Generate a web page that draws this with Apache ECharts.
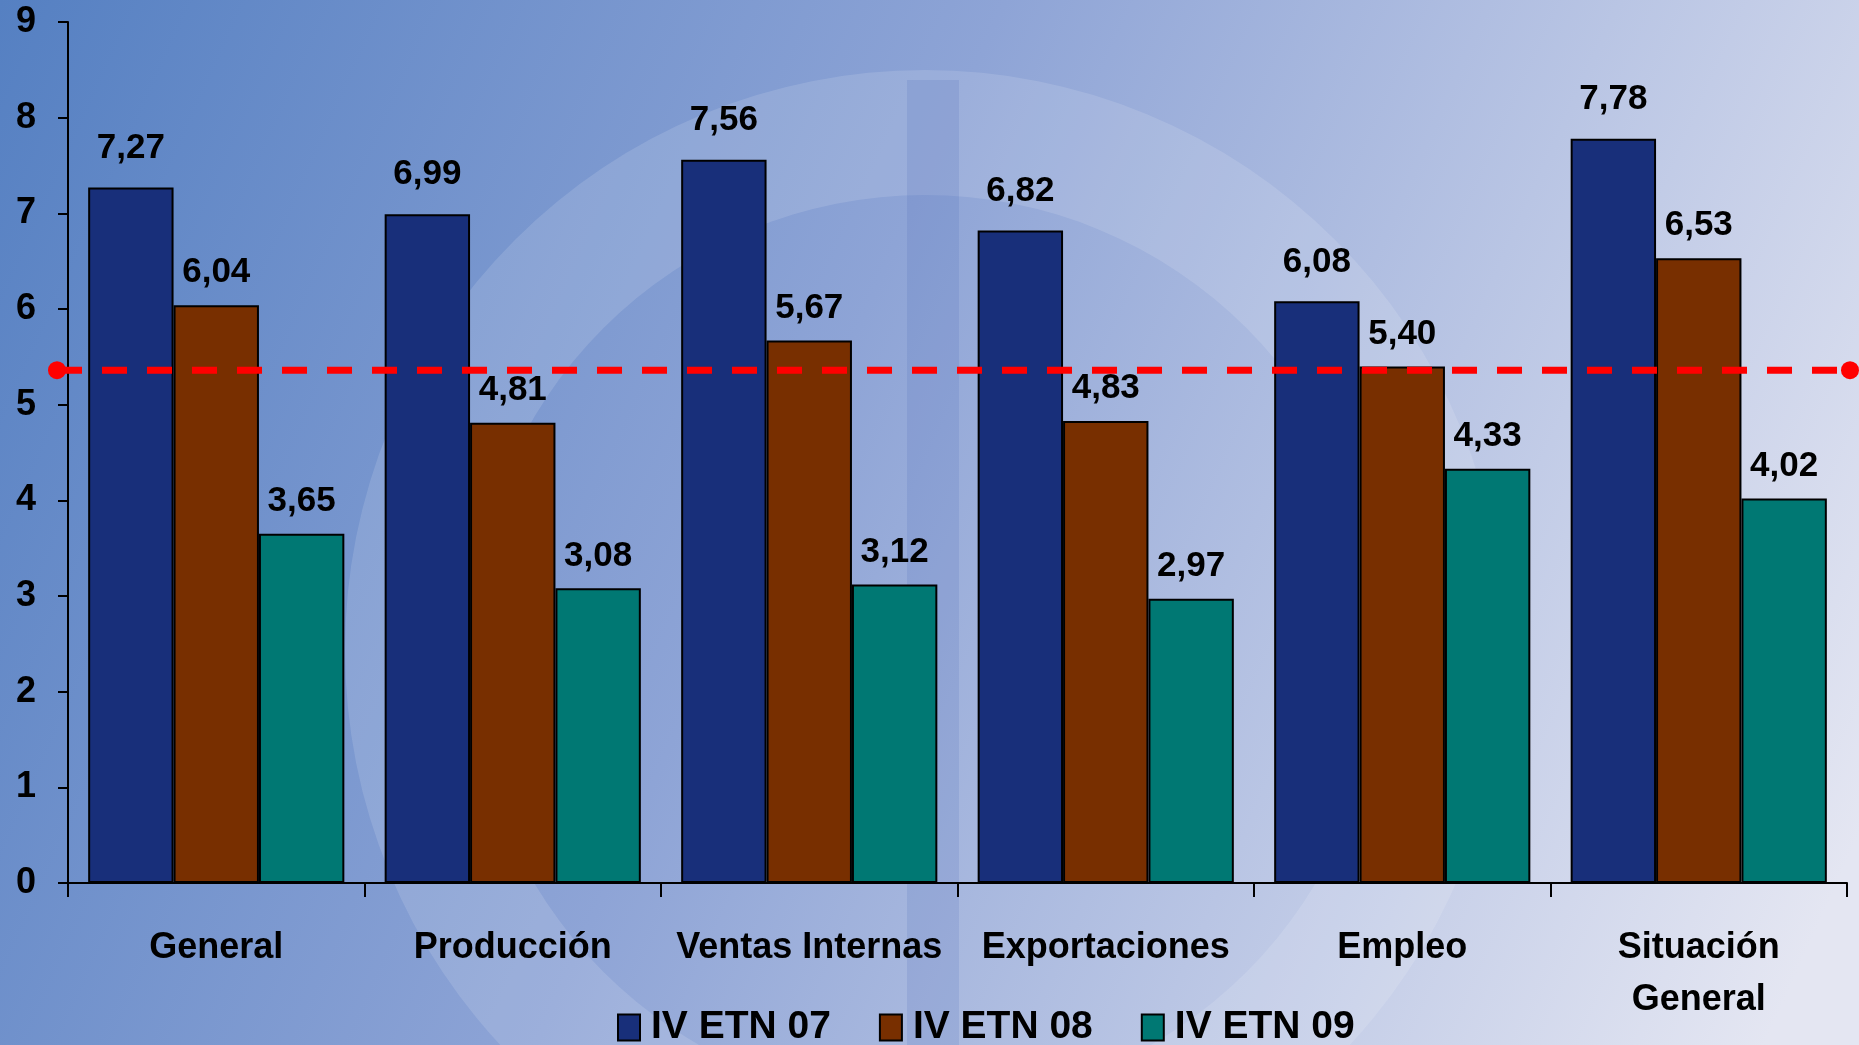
<!DOCTYPE html>
<html>
<head>
<meta charset="utf-8">
<script src="https://cdn.jsdelivr.net/npm/echarts@6/dist/echarts.min.js"></script>
<style>
  html, body { margin: 0; padding: 0; }
  #chart { width: 1859px; height: 1045px; }
</style>
</head>
<body>
<div id="chart"></div>
<script>
const categories = ['General', 'Producción', 'Ventas Internas', 'Exportaciones', 'Empleo', 'Situación\nGeneral']
const etn07 = [7.27, 6.99, 7.56, 6.82, 6.08, 7.78]
const etn08 = [6.04, 4.81, 5.67, 4.83, 5.40, 6.53]
const etn09 = [3.65, 3.08, 3.12, 2.97, 4.33, 4.02]
const referenceLevel = 5.36

const fontFamily = '"Liberation Sans", Arial, sans-serif'

function formatValue(value) {
  return Number(value).toFixed(2).replace('.', ',')
}

function barSeries(name, data, color, labelDistance) {
  return {
    name,
    type: 'bar',
    xAxisIndex: 0,
    yAxisIndex: 0,
    barGap: '0%',
    barCategoryGap: '13.6%',
    itemStyle: {
      color,
      borderColor: '#000',
      borderWidth: 2
    },
    label: {
      show: true,
      position: 'top',
      distance: labelDistance,
      color: '#000',
      fontFamily,
      fontWeight: 'bold',
      fontSize: 35,
      formatter: params => formatValue(params.value)
    },
    data
  }
}

const chart = echarts.init(document.getElementById('chart'))

chart.setOption({
  animation: false,
  backgroundColor: {
    type: 'linear',
    x: 0, y: 0, x2: 1, y2: 0.8,
    colorStops: [
      { offset: 0, color: '#5580c2' },
      { offset: 0.45, color: '#8ea4d6' },
      { offset: 1, color: '#e4e6f2' }
    ]
  },
  graphic: [
    {
      type: 'ring',
      silent: true,
      z: -10,
      shape: { cx: 925, cy: 650, r: 580, r0: 455 },
      style: { fill: 'rgba(255,255,255,0.13)' }
    },
    {
      type: 'rect',
      silent: true,
      z: -10,
      shape: { x: 907, y: 80, width: 52, height: 965 },
      style: { fill: 'rgba(70,100,180,0.16)' }
    }
  ],
  grid: [
    { left: 68, right: 12, top: 22, bottom: 162 },
    { left: 57, right: 9, top: 22, bottom: 162 }
  ],
  legend: {
    left: 612,
    top: 1003,
    itemWidth: 22,
    itemHeight: 26,
    itemGap: 48,
    icon: 'rect',
    textStyle: {
      color: '#000',
      fontFamily,
      fontWeight: 'bold',
      fontSize: 39,
      padding: [0, 0, 0, 6]
    },
    data: ['IV ETN 07', 'IV ETN 08', 'IV ETN 09']
  },
  xAxis: [
    {
      type: 'category',
      gridIndex: 0,
      data: categories,
      axisLine: { lineStyle: { color: '#000', width: 2 } },
      axisTick: { show: true, length: 14, lineStyle: { color: '#000', width: 2 } },
      axisLabel: {
        color: '#000',
        fontFamily,
        fontWeight: 'bold',
        fontSize: 36,
        lineHeight: 52,
        margin: 39,
        interval: 0
      }
    },
    {
      type: 'value',
      gridIndex: 1,
      min: 0,
      max: 1,
      show: false
    }
  ],
  yAxis: [
    {
      type: 'value',
      gridIndex: 0,
      min: 0,
      max: 9,
      interval: 1,
      axisLine: { show: true, lineStyle: { color: '#000', width: 2 } },
      axisTick: { show: true, length: 10, lineStyle: { color: '#000', width: 2 } },
      splitLine: { show: false },
      axisLabel: {
        color: '#000',
        fontFamily,
        fontWeight: 'bold',
        fontSize: 36,
        margin: 32
      }
    },
    {
      type: 'value',
      gridIndex: 1,
      min: 0,
      max: 9,
      show: false
    }
  ],
  series: [
    barSeries('IV ETN 07', etn07, '#182f7a', 22),
    barSeries('IV ETN 08', etn08, '#782f00', 15),
    barSeries('IV ETN 09', etn09, '#007873', 15),
    {
      name: 'Promedio',
      type: 'line',
      xAxisIndex: 1,
      yAxisIndex: 1,
      z: 5,
      symbol: 'circle',
      symbolSize: 18,
      itemStyle: { color: '#ff0000' },
      lineStyle: { color: '#ff0000', width: 7, type: [25, 20] },
      data: [[0, referenceLevel], [1, referenceLevel]]
    }
  ]
})
</script>
</body>
</html>
